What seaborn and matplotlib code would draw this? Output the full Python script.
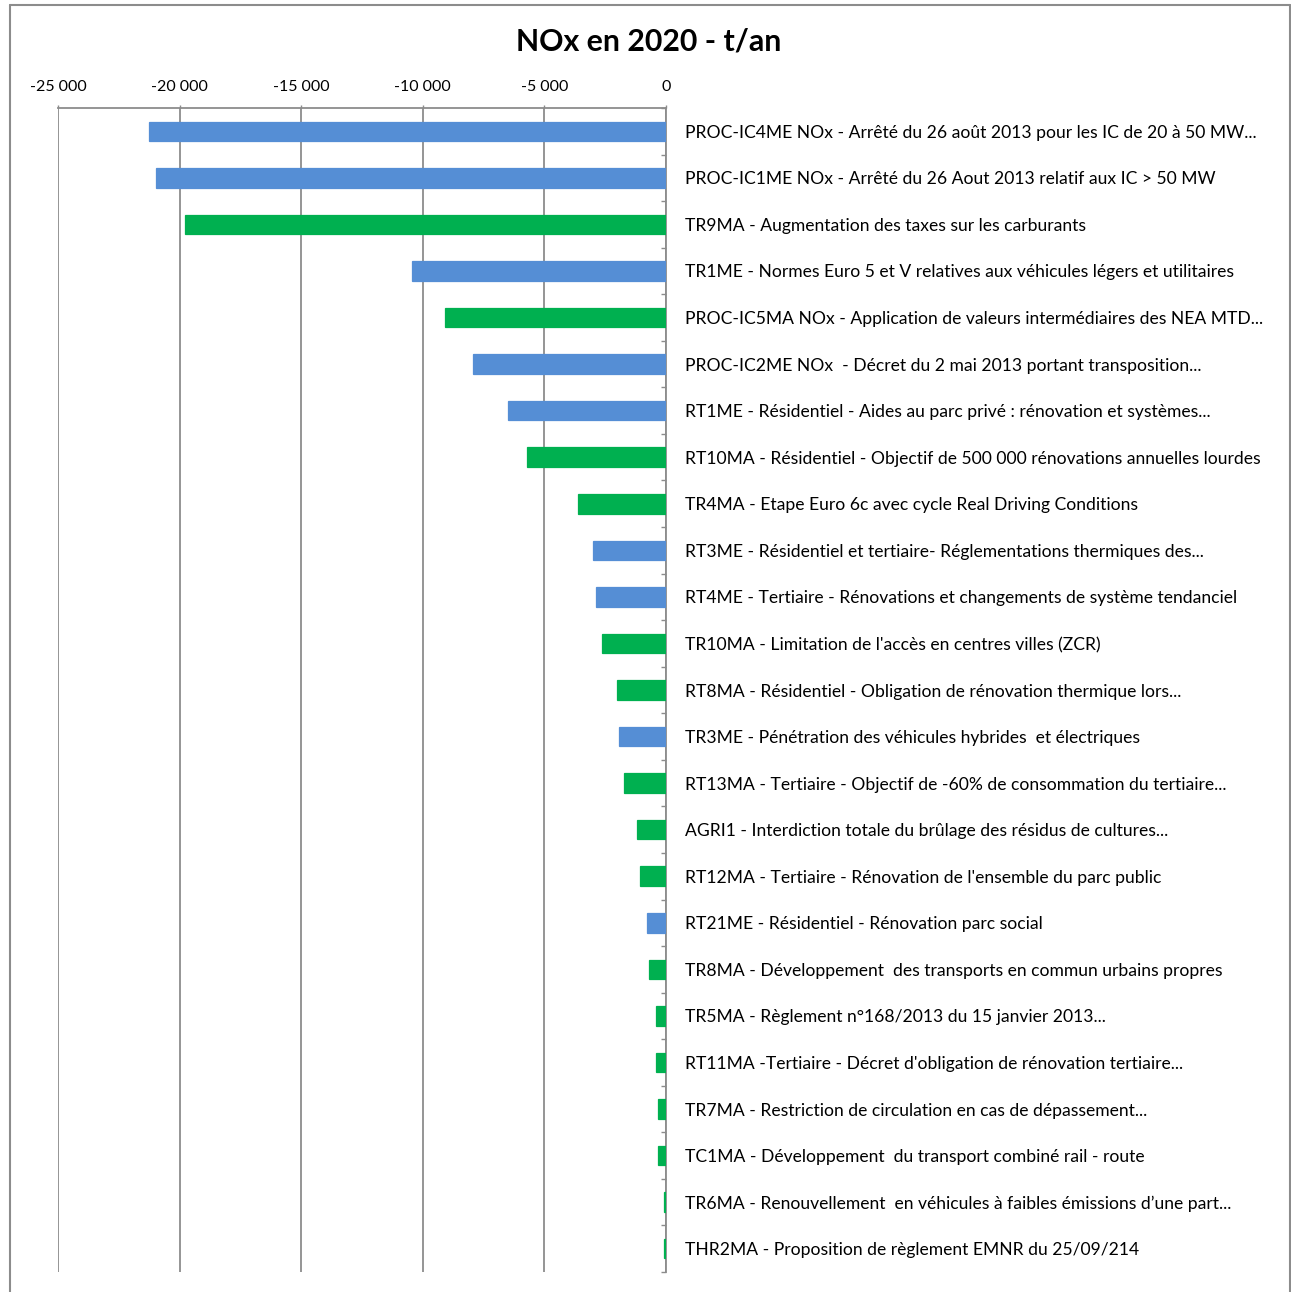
import matplotlib
matplotlib.use("Agg")
import matplotlib.pyplot as plt
import matplotlib.ticker as mticker
from matplotlib.lines import Line2D
import seaborn as sns
import pandas as pd

# Mesures et gains d'émissions de NOx en 2020 (t/an)
mesures = [
    "PROC-IC4ME NOx - Arrêté du 26 août 2013 pour les IC de 20 à 50 MW...",
    "PROC-IC1ME NOx - Arrêté du 26 Aout 2013 relatif aux IC > 50 MW",
    "TR9MA - Augmentation des taxes sur les carburants",
    "TR1ME - Normes Euro 5 et V relatives aux véhicules légers et utilitaires",
    "PROC-IC5MA NOx - Application de valeurs intermédiaires des NEA MTD...",
    "PROC-IC2ME NOx  - Décret du 2 mai 2013 portant transposition...",
    "RT1ME - Résidentiel - Aides au parc privé : rénovation et systèmes...",
    "RT10MA - Résidentiel - Objectif de 500 000 rénovations annuelles lourdes",
    "TR4MA - Etape Euro 6c avec cycle Real Driving Conditions",
    "RT3ME - Résidentiel et tertiaire- Réglementations thermiques des...",
    "RT4ME - Tertiaire - Rénovations et changements de système tendanciel",
    "TR10MA - Limitation de l'accès en centres villes (ZCR)",
    "RT8MA - Résidentiel - Obligation de rénovation thermique lors...",
    "TR3ME - Pénétration des véhicules hybrides  et électriques",
    "RT13MA - Tertiaire - Objectif de -60% de consommation du tertiaire...",
    "AGRI1 - Interdiction totale du brûlage des résidus de cultures...",
    "RT12MA - Tertiaire - Rénovation de l'ensemble du parc public",
    "RT21ME - Résidentiel - Rénovation parc social",
    "TR8MA - Développement  des transports en commun urbains propres",
    "TR5MA - Règlement n°168/2013 du 15 janvier 2013...",
    "RT11MA -Tertiaire - Décret d'obligation de rénovation tertiaire...",
    "TR7MA - Restriction de circulation en cas de dépassement...",
    "TC1MA - Développement  du transport combiné rail - route",
    "TR6MA - Renouvellement  en véhicules à faibles émissions d’une part...",
    "THR2MA - Proposition de règlement EMNR du 25/09/214",
]
gains = [
    -21270, -20990, -19780, -10440, -9080, -7930, -6490, -5710, -3620, -3000,
    -2880, -2640, -2020, -1940, -1730, -1190, -1070, -780, -700, -410,
    -410, -330, -330, -90, -90,
]
types = [
    "ME", "ME", "MA", "ME", "MA", "ME", "ME", "MA", "MA", "ME",
    "ME", "MA", "MA", "ME", "MA", "MA", "MA", "ME", "MA", "MA",
    "MA", "MA", "MA", "MA", "MA",
]
x_ticks = [-25000, -20000, -15000, -10000, -5000, 0]

couleurs = {"ME": "#558ED5", "MA": "#00B050"}
gris = "#8C8C8C"

df = pd.DataFrame({"mesure": mesures, "gain": gains, "type": types})

sns.set_theme(style="white")
plt.rcParams["font.family"] = ["Lato", "DejaVu Sans"]

W, H = 1291, 1292
fig = plt.figure(figsize=(W / 100, H / 100), dpi=100)
ax = fig.add_axes([58 / W, 20 / H, 608 / W, 1164 / H])

sns.barplot(data=df, y="mesure", x="gain", hue="type", palette=couleurs,
            orient="h", width=0.42, dodge=False, legend=False,
            saturation=1, ax=ax, zorder=3)
# Un léger contour de la couleur de la barre garde visibles les plus petites
for bar in ax.patches:
    bar.set_edgecolor(bar.get_facecolor())
    bar.set_linewidth(0.9)

ax.set_xlim(-25000, 0)
ax.set_ylim(len(mesures) - 0.5, -0.5)
ax.set_xlabel("")
ax.set_ylabel("")

# Axe des valeurs en haut
ax.xaxis.tick_top()
ax.set_xticks(x_ticks)
ax.xaxis.set_major_formatter(mticker.FuncFormatter(
    lambda v, _: f"{int(v):,}".replace(",", "\u202f") if v != 0 else "0"))
ax.tick_params(axis="x", which="major", length=2.5, width=1, color=gris,
               pad=7.5, labelsize=11.5, labelcolor="black", direction="out")
ax.grid(axis="x", color=gris, linewidth=1.3)
ax.set_axisbelow(True)

# Axe des catégories à droite (x = 0)
ax.yaxis.tick_right()
ax.tick_params(axis="y", which="major", length=0, pad=14, labelsize=12.6,
               labelcolor="black")
for lab in ax.get_yticklabels():
    lab.set_horizontalalignment("left")
ax.set_yticks([i + 0.5 for i in range(-1, len(mesures))], minor=True)
ax.tick_params(axis="y", which="minor", right=True, left=False,
               direction="in", length=3.5, width=1, color=gris)

for side in ["left", "bottom"]:
    ax.spines[side].set_visible(False)
for side in ["top", "right"]:
    ax.spines[side].set_color(gris)
    ax.spines[side].set_linewidth(1.3)

fig.text(649 / W, 1 - 41 / H, "NOx en 2020 - t/an", ha="center", va="center",
         fontsize=21.8, fontweight="bold", color="black")

# Cadre du graphique
x0, x1, y0, y1 = 9.5 / W, 1289.5 / W, 0.0, 1 - 5 / H
for xs, ys in [([x0, x0], [y0, y1]), ([x0, x1], [y1, y1]), ([x1, x1], [y1, y0])]:
    fig.add_artist(Line2D(xs, ys, transform=fig.transFigure, color=gris,
                          linewidth=1.5))

fig.savefig("out.png", dpi=100)
